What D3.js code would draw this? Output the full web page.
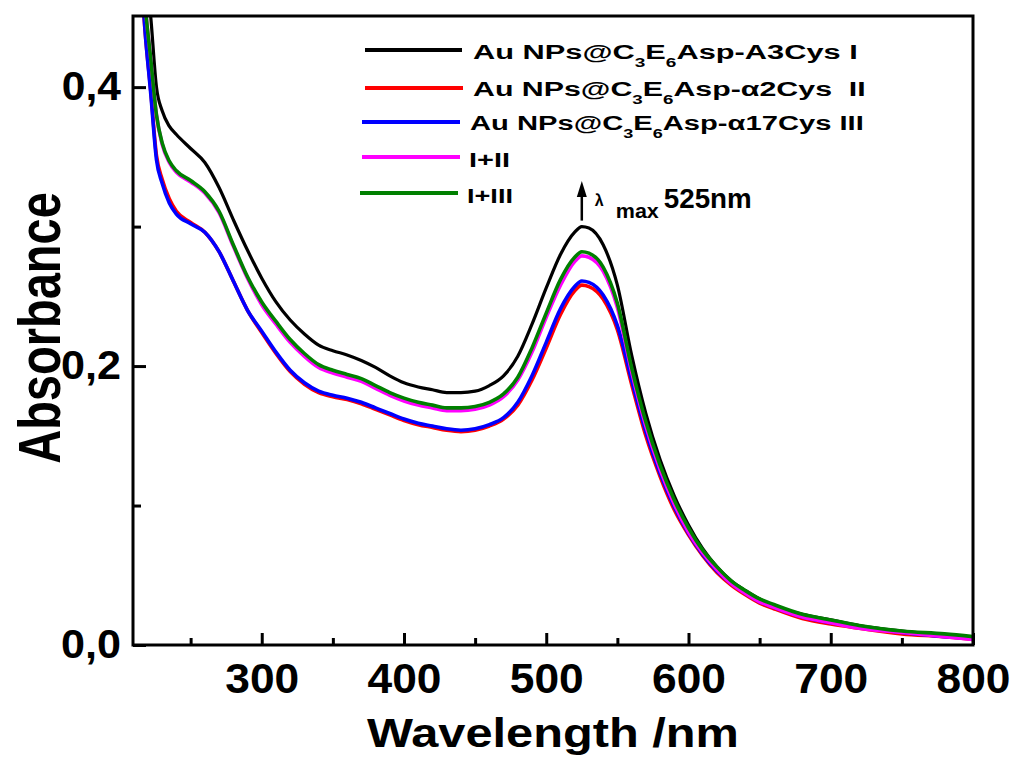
<!DOCTYPE html>
<html><head><meta charset="utf-8">
<script src="https://cdn.jsdelivr.net/npm/d3@7"></script>
<style>
body{margin:0;background:#fff}
svg{display:block}
text{font-family:"Liberation Sans",Arial,sans-serif;font-weight:bold;fill:#000}
</style>
</head><body><svg id="c" width="1014" height="758"></svg>
<script>
// ---------- data ----------
const wavelengths = [214,218,222,226,230,235,240,250,260,270,280,290,300,310,320,330,340,350,360,370,380,390,400,410,420,430,440,450,460,470,480,490,500,510,520,525,530,540,550,560,570,580,590,600,610,620,630,640,650,660,680,700,720,750,780,800];

const absI = [0.56,0.49,0.45,0.40,0.383,0.372,0.366,
  0.356,0.346,0.328,0.305,0.283,0.263,0.246,0.233,0.223,0.215,0.211,0.208,0.204,0.199,0.193,0.188,0.185,0.183,0.181,0.181,0.182,0.186,0.193,0.207,0.230,0.256,0.280,0.296,
  0.300,0.299,
  0.287,0.258,0.208,0.166,0.133,0.107,0.086,0.069,0.056,0.046,0.039,0.033,0.028,
  0.022,0.018,0.014,0.010,0.007,0.005];

const absII = [0.50,0.44,0.397,0.351,0.334,0.320,0.311,
  0.303,0.296,0.282,0.261,0.240,0.224,0.209,0.196,0.187,0.181,0.178,0.176,0.173,0.169,0.165,0.161,0.158,0.156,0.154,0.153,0.154,0.157,0.162,0.172,0.190,0.213,0.237,0.254,
  0.258,0.257,
  0.248,0.226,0.187,0.150,0.121,0.097,0.079,0.064,0.052,0.043,0.036,0.030,0.026,
  0.019,0.015,0.012,0.008,0.006,0.004];

const absIII = [0.50,0.44,0.395,0.348,0.331,0.317,0.309,
  0.302,0.296,0.282,0.261,0.240,0.225,0.210,0.197,0.188,0.182,0.179,0.177,0.174,0.170,0.166,0.162,0.159,0.157,0.155,0.154,0.155,0.158,0.163,0.174,0.193,0.217,0.241,0.257,
  0.261,0.260,
  0.251,0.229,0.190,0.153,0.123,0.099,0.080,0.065,0.053,0.044,0.037,0.031,0.027,
  0.020,0.016,0.013,0.009,0.006,0.005];

const absIplusII = [0.53,0.46,0.42,0.38,0.359,0.346,0.339,
  0.332,0.324,0.310,0.286,0.263,0.244,0.230,0.217,0.207,0.199,0.195,0.192,0.189,0.184,0.179,0.175,0.172,0.170,0.168,0.168,0.169,0.172,0.178,0.190,0.210,0.235,0.258,0.275,
  0.279,0.278,
  0.268,0.242,0.196,0.157,0.126,0.101,0.081,0.066,0.054,0.044,0.037,0.031,0.027,
  0.020,0.016,0.012,0.009,0.006,0.004];

const absIplusIII = [0.53,0.46,0.42,0.38,0.360,0.347,0.340,
  0.333,0.325,0.311,0.287,0.264,0.246,0.232,0.219,0.209,0.201,0.197,0.194,0.191,0.186,0.181,0.177,0.174,0.172,0.170,0.170,0.171,0.174,0.180,0.192,0.213,0.238,0.262,0.278,
  0.282,0.281,
  0.271,0.245,0.199,0.160,0.129,0.104,0.084,0.068,0.056,0.046,0.039,0.033,0.029,
  0.022,0.018,0.014,0.010,0.008,0.006];

const seriesNames = ["I","II","III","I+II","I+III"];
const seriesColors = ["#000000","#ff0000","#0000ff","#ff00ff","#008000"];
const seriesValues = [absI, absII, absIII, absIplusII, absIplusIII];

const xMajorTicks = [300,400,500,600,700,800];
const xMinorTicks = [250,350,450,550,650,750];
const yMajorTicks = [0,0.2,0.4];
const yMinorTicks = [0.1,0.3];

const legendLabels = [
  [["Au NPs@C",0],["3",1],["E",0],["6",1],["Asp-A3Cys I",0]],
  [["Au NPs@C",0],["3",1],["E",0],["6",1],["Asp-\u03B12Cys\u00A0\u00A0II",0]],
  [["Au NPs@C",0],["3",1],["E",0],["6",1],["Asp-\u03B117Cys III",0]],
  [["I+II",0]],
  [["I+III",0]]
];
const peakWavelength = 525;

// ---------- layout ----------
const svg = d3.select("#c");
const P = {left:133, top:16, right:973, bottom:645};
const x = d3.scaleLinear().domain([209.5,800]).range([P.left,P.right]);
const y = d3.scaleLinear().domain([0,0.451]).range([P.bottom,P.top]);

svg.append("rect").attr("width",1014).attr("height",758).attr("fill","#fff");

svg.append("clipPath").attr("id","clip").append("rect")
  .attr("x",P.left).attr("y",P.top).attr("width",P.right-P.left).attr("height",P.bottom-P.top);

function stretch(sel, target){
  const n = sel.node();
  const w = n.getBBox().width;
  const s = target / w;
  const prev = sel.attr("transform") || "";
  sel.attr("transform", prev + ` scale(${s},1)`);
}

// curves
const line = d3.line().x((d,i)=>x(wavelengths[i])).y(d=>y(d)).curve(d3.curveMonotoneX);
const gLines = svg.append("g").attr("clip-path","url(#clip)");
seriesValues.forEach((vals,k)=>{
  gLines.append("path").datum(vals)
    .attr("d", line)
    .attr("fill","none")
    .attr("stroke", seriesColors[k])
    .attr("stroke-width", k===0 ? 3.2 : 3.6)
    .attr("stroke-linejoin","round");
});

// axes
const gx = svg.append("g").attr("transform",`translate(0,${P.bottom})`)
  .call(d3.axisBottom(x).tickValues(xMajorTicks).tickSize(-12).tickPadding(18).tickFormat(d3.format("d")));
const gxm = svg.append("g").attr("transform",`translate(0,${P.bottom})`)
  .call(d3.axisBottom(x).tickValues(xMinorTicks).tickSize(-7).tickFormat(""));
const gy = svg.append("g").attr("transform",`translate(${P.left},0)`)
  .call(d3.axisLeft(y).tickValues(yMajorTicks).tickSize(-13).tickPadding(12).tickFormat(d=>d3.format(".1f")(d).replace(".",",")));
const gym = svg.append("g").attr("transform",`translate(${P.left},0)`)
  .call(d3.axisLeft(y).tickValues(yMinorTicks).tickSize(-8).tickFormat(""));

[gx,gxm,gy,gym].forEach(g=>{
  g.select(".domain").remove();
  g.selectAll(".tick line").attr("stroke","#000").attr("stroke-width",3);
});
gx.selectAll(".tick text").attr("font-size",42).attr("font-family",null).attr("fill","#000")
  .each(function(){ stretch(d3.select(this), 74); });
gy.selectAll(".tick text").attr("font-size",40).attr("font-family",null).attr("fill","#000")
  .attr("x",0).attr("transform","translate(-12,0)")
  .each(function(){ stretch(d3.select(this), 60); });

// frame
svg.append("rect").attr("x",P.left).attr("y",P.top)
  .attr("width",P.right-P.left).attr("height",P.bottom-P.top)
  .attr("fill","none").attr("stroke","#000").attr("stroke-width",3);

// axis titles
const xt = svg.append("g").attr("transform",`translate(${(P.left+P.right)/2},747)`)
  .append("text").attr("text-anchor","middle").attr("font-size",41).text("Wavelength /nm");
stretch(xt, 372);
svg.append("g").attr("transform",`translate(60,328) scale(1.25,1) rotate(-90)`)
  .append("text").attr("text-anchor","middle").attr("font-size",47).text("Absorbance");

// legend
const legRows = [
  {ly:50, lx1:365, lx2:462, tx:473, by:59, w:385},
  {ly:88, lx1:365, lx2:463, tx:473, by:96, w:393},
  {ly:122, lx1:362, lx2:460, tx:470, by:130, w:394},
  {ly:157, lx1:362, lx2:460, tx:469, by:167, w:41},
  {ly:193, lx1:360, lx2:458, tx:467, by:203, w:46}
];
legendLabels.forEach((segs,k)=>{
  const r = legRows[k];
  svg.append("line").attr("x1",r.lx1).attr("x2",r.lx2).attr("y1",r.ly).attr("y2",r.ly)
    .attr("stroke",seriesColors[k]).attr("stroke-width",4);
  const t = svg.append("g").attr("transform",`translate(${r.tx},${r.by})`)
    .append("text").attr("font-size",21);
  let sub = 0;
  segs.forEach(([s,isSub])=>{
    const ts = t.append("tspan").text(s);
    if(isSub){ ts.attr("font-size",13).attr("dy",8); sub = 1; }
    else if(sub){ ts.attr("dy",-8); sub = 0; }
  });
  stretch(t, r.w);
});

// lambda max annotation
const ax = x(peakWavelength);
svg.append("line").attr("x1",ax).attr("x2",ax).attr("y1",y(0.300)-6).attr("y2",194)
  .attr("stroke","#000").attr("stroke-width",2.5);
svg.append("path").attr("d",`M${ax},181 L${ax-5},197 L${ax+5},197 Z`).attr("fill","#000");
svg.append("text").attr("x",ax+13).attr("y",206).attr("font-size",16).attr("font-weight","normal").text("\u03BB");
const mx = svg.append("g").attr("transform",`translate(${ax+34},218)`).append("text").attr("font-size",20).text("max");
stretch(mx, 43);
const nm = svg.append("g").attr("transform",`translate(${ax+82},208)`).append("text").attr("font-size",28).text(peakWavelength+"nm");
stretch(nm, 88);
</script>
</body></html>
